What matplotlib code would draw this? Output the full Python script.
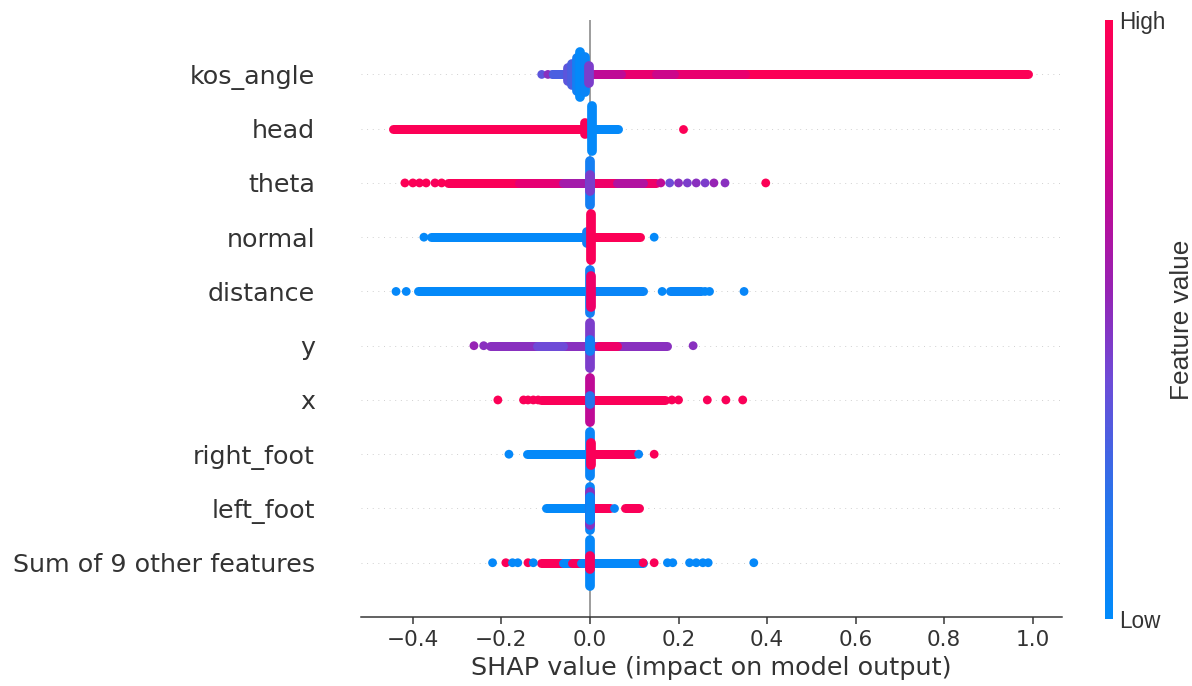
import numpy as np
import matplotlib
matplotlib.use("Agg")
import matplotlib.pyplot as plt
from matplotlib.colors import LinearSegmentedColormap

# feature names, top to bottom
features = ["kos_angle", "head", "theta", "normal", "distance",
            "y", "x", "right_foot", "left_foot", "Sum of 9 other features"]

# dense runs of points: (shap_from, shap_to, feature_value 0..1)
streaks = {
    "kos_angle": [(0.0, 0.99, 0.98), (0.0, 0.35, 0.87), (0.0, 0.07, 0.7),
                  (0.15, 0.19, 0.75), (-0.085, -0.03, 0.3)],
    "head": [(-0.445, -0.01, 0.98), (0.0, 0.063, 0.02)],
    "theta": [(-0.32, -0.06, 0.97), (-0.16, -0.06, 0.85), (-0.06, 0.0, 0.6),
              (0.0, 0.15, 0.9), (0.06, 0.12, 0.65)],
    "normal": [(-0.36, 0.0, 0.02), (0.0, 0.113, 0.98)],
    "distance": [(-0.388, 0.0, 0.02), (0.0, 0.12, 0.05), (0.18, 0.25, 0.05)],
    "y": [(-0.225, 0.0, 0.5), (-0.12, -0.06, 0.4), (0.0, 0.175, 0.5),
          (0.02, 0.06, 0.9)],
    "x": [(-0.11, 0.0, 0.97), (0.0, 0.17, 0.97)],
    "right_foot": [(-0.142, 0.0, 0.02), (0.0, 0.1, 0.97)],
    "left_foot": [(-0.1, 0.0, 0.02), (0.0, 0.045, 0.97), (0.08, 0.11, 0.97)],
    "Sum of 9 other features": [(-0.11, -0.06, 0.97), (-0.06, -0.04, 0.03),
                                (-0.04, -0.02, 0.95), (-0.02, 0.0, 0.03),
                                (0.0, 0.12, 0.03)],
}

# single visible points: (shap, feature_value)
dots = {
    "kos_angle": [(-0.109, 0.35), (-0.095, 0.5), (-0.083, 0.3)],
    "head": [(0.21, 0.98)],
    "theta": [(-0.418, 0.98), (-0.40, 0.98), (-0.385, 0.97), (-0.37, 0.98),
              (-0.35, 0.96), (-0.335, 0.98), (0.16, 0.7), (0.18, 0.4),
              (0.2, 0.5), (0.22, 0.45), (0.24, 0.5), (0.26, 0.45),
              (0.28, 0.55), (0.305, 0.5), (0.397, 0.98)],
    "normal": [(-0.375, 0.02), (0.145, 0.02)],
    "distance": [(-0.438, 0.03), (-0.415, 0.03), (0.163, 0.03),
                 (0.26, 0.03), (0.27, 0.03), (0.348, 0.04)],
    "y": [(-0.262, 0.55), (-0.24, 0.5), (0.233, 0.5)],
    "x": [(-0.208, 0.98), (-0.15, 0.97), (-0.14, 0.97), (-0.128, 0.97),
          (-0.117, 0.97), (0.185, 0.97), (0.2, 0.97), (0.265, 0.97),
          (0.307, 0.97), (0.345, 0.97)],
    "right_foot": [(-0.183, 0.03), (0.11, 0.05), (0.145, 0.97)],
    "left_foot": [(0.055, 0.05)],
    "Sum of 9 other features": [(-0.22, 0.03), (-0.19, 0.97), (-0.175, 0.03),
                                (-0.163, 0.03), (-0.14, 0.97), (-0.128, 0.03),
                                (0.12, 0.97), (0.145, 0.97), (0.175, 0.03),
                                (0.187, 0.03), (0.225, 0.03), (0.24, 0.03),
                                (0.255, 0.03), (0.267, 0.03), (0.37, 0.03)],
}

# stacked piles around zero: (shap, half height in rows, feature_value)
piles = {
    "kos_angle": [(-0.05, 0.12, 0.35), (-0.04, 0.2, 0.3), (-0.03, 0.3, 0.1),
                  (-0.022, 0.41, 0.02), (-0.012, 0.32, 0.05),
                  (-0.003, 0.15, 0.45)],
    "head": [(-0.012, 0.1, 0.97), (0.004, 0.42, 0.02)],
    "theta": [(0.0, 0.4, 0.1), (0.0, 0.15, 0.45)],
    "normal": [(-0.006, 0.1, 0.1), (0.003, 0.42, 0.97)],
    "distance": [(0.0, 0.4, 0.1), (0.003, 0.28, 0.9)],
    "y": [(0.0, 0.41, 0.45), (0.0, 0.1, 0.1)],
    "x": [(0.0, 0.41, 0.7), (0.0, 0.08, 0.2)],
    "right_foot": [(0.0, 0.41, 0.05), (0.003, 0.2, 0.97)],
    "left_foot": [(0.0, 0.4, 0.05), (0.0, 0.3, 0.5), (0.0, 0.22, 0.05)],
    "Sum of 9 other features": [(0.0, 0.42, 0.03), (0.0, 0.12, 0.95)],
}

# shap-like red/blue colormap
red_blue = LinearSegmentedColormap.from_list("red_blue", [
    (0.0, (0 / 255, 139 / 255, 251 / 255)),
    (0.2, (40 / 255, 115 / 255, 235 / 255)),
    (0.4, (110 / 255, 75 / 255, 215 / 255)),
    (0.55, (150 / 255, 35 / 255, 180 / 255)),
    (0.7, (190 / 255, 10 / 255, 150 / 255)),
    (0.85, (230 / 255, 0 / 255, 115 / 255)),
    (1.0, (255 / 255, 0 / 255, 82 / 255)),
])

fig = plt.figure(figsize=(1192 / 135, 686 / 135), dpi=135)
ax = fig.add_axes([0.3029, 0.1006, 0.588, 0.870])

n = len(features)
for i, name in enumerate(features):
    pos = n - 1 - i
    ax.axhline(y=pos, color="#cccccc", lw=0.5, dashes=(1, 5), zorder=-1)
    for x0, x1, c in streaks[name]:
        ax.plot([x0, x1], [pos, pos], color=red_blue(c), lw=4.8,
                solid_capstyle="round", zorder=3)
    xs = [d[0] for d in dots[name]]
    cs = [d[1] for d in dots[name]]
    ax.scatter(xs, [pos] * len(xs), c=cs, cmap=red_blue, vmin=0, vmax=1,
               s=22, lw=0, zorder=3)
    for x, h, c in piles[name]:
        ax.plot([x, x], [pos - h, pos + h], color=red_blue(c), lw=5.2,
                solid_capstyle="round", zorder=4)

ax.axvline(x=0, color="#999999", lw=1.0, zorder=2)

ax.set_xlim(-0.517, 1.066)
ax.set_ylim(-1, n)
ax.set_yticks(range(n))
ax.set_yticklabels(features[::-1], fontsize=13.5, color="#333333")
ax.tick_params(axis="y", length=0, pad=24.5)
ax.tick_params(axis="x", labelsize=11.5, color="#333333", labelcolor="#333333")
ax.set_xticks([-0.4, -0.2, 0.0, 0.2, 0.4, 0.6, 0.8, 1.0])
for s in ["top", "right", "left"]:
    ax.spines[s].set_visible(False)
ax.spines["bottom"].set_color("#333333")
ax.set_xlabel("SHAP value (impact on model output)", fontsize=13.6,
              color="#333333", labelpad=3)

# colour bar
cax = fig.add_axes([0.927, 0.097, 0.0067, 0.874])
m = plt.cm.ScalarMappable(cmap=red_blue)
m.set_array([0, 1])
cb = fig.colorbar(m, cax=cax, ticks=[0, 1])
cb.set_ticklabels(["Low", "High"])
cb.ax.tick_params(labelsize=12, length=0, labelcolor="#333333")
for t in cb.ax.get_yticklabels():
    t.set_fontfamily("Liberation Sans")
cb.set_label("Feature value", size=14, labelpad=2, color="#333333",
             family="Liberation Sans")
cb.outline.set_visible(False)

fig.savefig("out.png", dpi=135)
